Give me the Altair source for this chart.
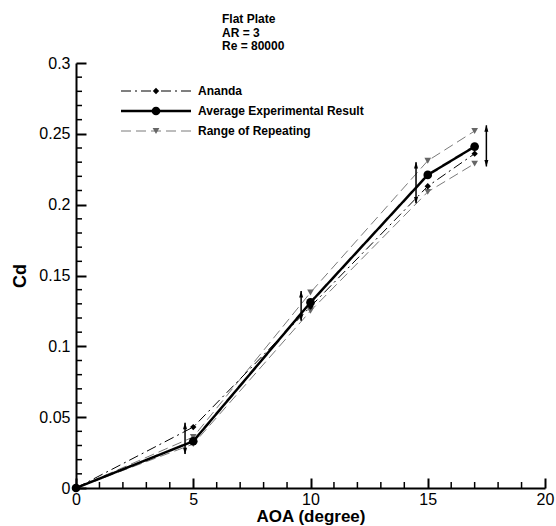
import altair as alt
import pandas as pd

# ---------------- data ----------------
aoa = [0, 5, 10, 15, 17]
ananda_cd = [0.0, 0.043, 0.128, 0.213, 0.236]
avg_cd = [0.0, 0.033, 0.131, 0.221, 0.241]
range_hi = [0.0, 0.036, 0.138, 0.231, 0.252]
range_lo = [0.0, 0.031, 0.125, 0.209, 0.229]

err_x = [4.65, 9.6, 14.5, 17.5]
err_lo = [0.024, 0.118, 0.201, 0.227]
err_hi = [0.046, 0.139, 0.230, 0.256]

series = ["Ananda", "Average Experimental Result", "Range of Repeating"]
title_lines = ["Flat Plate", "AR = 3", "Re = 80000"]

x_major = [0, 5, 10, 15, 20]
y_major = [0, 0.05, 0.1, 0.15, 0.2, 0.25, 0.3]
x_minor = [v for v in range(0, 21) if v % 5 != 0]
y_minor = [round(v / 100, 2) for v in range(0, 31) if v % 5 != 0]

rows = []
for a, c in zip(aoa, range_hi):
    rows.append(dict(aoa=a, cd=c, series=series[2], run="hi"))
for a, c in zip(aoa, range_lo):
    rows.append(dict(aoa=a, cd=c, series=series[2], run="lo"))
for a, c in zip(aoa, ananda_cd):
    rows.append(dict(aoa=a, cd=c, series=series[0], run="an"))
for a, c in zip(aoa, avg_cd):
    rows.append(dict(aoa=a, cd=c, series=series[1], run="avg"))
df = pd.DataFrame(rows)
edf = pd.DataFrame(dict(x=err_x, lo=err_lo, hi=err_hi))

# ---------------- style ----------------
FONT = "Liberation Sans"
W, H = 469, 425
xs = alt.Scale(domain=[0, 20], nice=False, zero=False)
ys = alt.Scale(domain=[0, 0.3], nice=False, zero=False)
col_range = ["#000000", "#000000", "#7a7a7a"]

leg_lines = alt.Legend(
    orient="none", legendX=74, legendY=22, title=None, padding=0,
    symbolType="M-14,0H14", symbolSize=25, labelExpr="''",
    labelFont=FONT, labelFontSize=12, labelFontWeight="bold", rowPadding=8,
)
leg_pts = alt.Legend(
    orient="none", legendX=74, legendY=22, title=None, padding=0,
    labelFont=FONT, labelFontSize=12, labelFontWeight="bold", labelColor="black",
    labelOffset=36, labelLimit=300, rowPadding=8, symbolStrokeWidth=0,
)

AX = alt.Axis(
    values=x_major, ticks=True, tickSize=alt.ExprRef("-10"), tickWidth=2, tickColor="black",
    domain=True, domainColor="black", domainWidth=2, zindex=1,
    labelFont=FONT, labelFontSize=16, labelColor="black", labelPadding=13,
    labelFlush=False, grid=False, format="d",
    title="AOA (degree)", titleFont=FONT, titleFontSize=17, titleFontWeight="bold",
    titleColor="black", titleY=33, titleBaseline="alphabetic",
)
AY = alt.Axis(
    values=y_major, ticks=True, tickSize=alt.ExprRef("-10"), tickWidth=2, tickColor="black",
    domain=True, domainColor="black", domainWidth=2, zindex=1,
    labelFont=FONT, labelFontSize=16, labelColor="black", labelPadding=16,
    labelFlush=False, grid=False, format=".2~f",
    title="Cd", titleFont=FONT, titleFontSize=18, titleFontWeight="bold",
    titleColor="black", titleX=-51, titleBaseline="alphabetic",
)


def X(field):
    return alt.X(field, scale=xs, axis=AX)


def Y(field):
    return alt.Y(field, scale=ys, axis=AY)


lines = alt.Chart(df).mark_line().encode(
    x=X("aoa:Q"),
    y=Y("cd:Q"),
    color=alt.Color("series:N", scale=alt.Scale(domain=series, range=col_range), legend=leg_lines),
    strokeDash=alt.StrokeDash("series:N", scale=alt.Scale(domain=series, range=[[10, 4, 2, 4], [1, 0], [10, 5]]), legend=leg_lines),
    strokeWidth=alt.StrokeWidth("series:N", scale=alt.Scale(type="ordinal", domain=series, range=[1, 2.5, 1]), legend=leg_lines),
    detail="run:N",
)


# inward minor ticks, placed through the axis scales (base = axis origin)
def x_ticks(vals, length, width):
    d = pd.DataFrame({"v": vals, "base": [0.0] * len(vals)})
    return alt.Chart(d).mark_tick(orient="vertical", size=length, thickness=width, color="black",
                                  opacity=1, yOffset=-length / 2).encode(
        x=X("v:Q"), y=Y("base:Q")
    )


def y_ticks(vals, length, width):
    d = pd.DataFrame({"v": vals, "base": [0.0] * len(vals)})
    return alt.Chart(d).mark_tick(orient="horizontal", size=length, thickness=width, color="black",
                                  opacity=1, xOffset=length / 2).encode(
        y=Y("v:Q"), x=X("base:Q")
    )


ticks = [x_ticks(x_minor, 6, 1.5), y_ticks(y_minor, 6, 1.5)]

err = alt.Chart(edf).mark_rule(color="black", strokeWidth=1.5).encode(
    x=X("x:Q"), y=Y("lo:Q"), y2="hi:Q"
)
up = alt.Chart(edf).mark_point(shape="M0,-1L0.6,1L-0.6,1Z", filled=True, color="black",
                               size=45, opacity=1, yOffset=3).encode(
    x=X("x:Q"), y=Y("hi:Q")
)
down = alt.Chart(edf).mark_point(shape="M0,1L0.6,-1L-0.6,-1Z", filled=True, color="black",
                                 size=45, opacity=1, yOffset=-3).encode(
    x=X("x:Q"), y=Y("lo:Q")
)

pts = alt.Chart(df).mark_point(filled=True, opacity=1).encode(
    x=X("aoa:Q"),
    y=Y("cd:Q"),
    color=alt.Color("series:N", scale=alt.Scale(domain=series, range=["#000000", "#000000", "#666666"]), legend=leg_pts),
    shape=alt.Shape("series:N", scale=alt.Scale(domain=series, range=["diamond", "circle", "triangle-down"]), legend=leg_pts),
    size=alt.Size("series:N", scale=alt.Scale(type="ordinal", domain=series, range=[40, 75, 45]), legend=leg_pts),
)

chart = (
    alt.layer(lines, err, up, down, pts, *ticks)
    .resolve_scale(color="independent", strokeDash="independent", strokeWidth="independent",
                   shape="independent", size="independent")
    .properties(
        width=W, height=H,
        padding={"left": 76, "top": 63, "right": 11, "bottom": 38},
        autosize=alt.AutoSizeParams(type="none"),
        background="white",
        title=alt.TitleParams(
            text=title_lines, anchor="start", align="left", dx=146, dy=22, font=FONT,
            fontSize=12, fontWeight="bold", color="black", lineHeight=13.5,
            offset=12, frame="group", baseline="bottom",
        ),
    )
    .configure_view(stroke=None)
)

chart.save("out.html", embed_options={"renderer": "svg", "actions": False})
